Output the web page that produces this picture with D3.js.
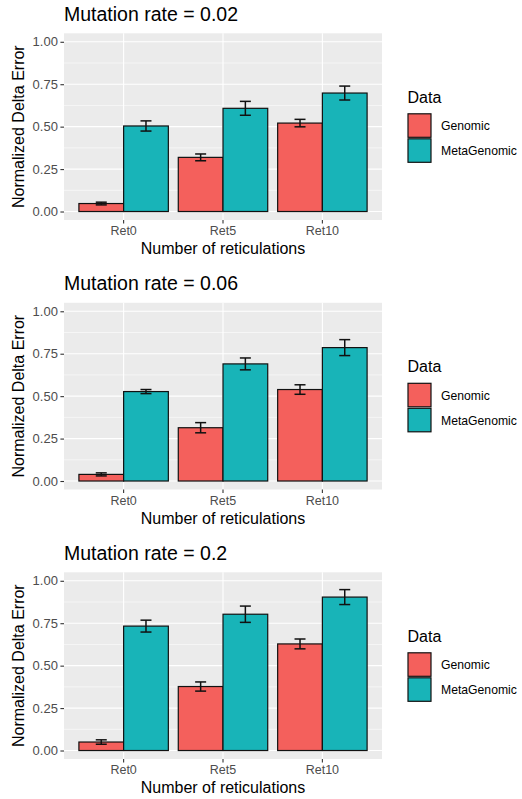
<!DOCTYPE html>
<html>
<head>
<meta charset="utf-8">
<script src="https://cdn.jsdelivr.net/npm/d3@7"></script>
<style>
  body { margin: 0; background: #fff; }
  text { font-family: "Liberation Sans", Arial, sans-serif; }
</style>
</head>
<body>
<script>
const categories = ["Ret0", "Ret5", "Ret10"];
const series = ["Genomic", "MetaGenomic"];
const rates = ["0.02", "0.06", "0.2"];
const yTicks = [0, 0.25, 0.5, 0.75, 1];
const yMinor = [0.125, 0.375, 0.625, 0.875];

// mean values and error half widths, per rate
const genomic = [
  [0.047, 0.319, 0.521],
  [0.039, 0.314, 0.539],
  [0.05, 0.377, 0.628],
];
const genomicErr = [
  [0.008, 0.02, 0.022],
  [0.009, 0.03, 0.028],
  [0.013, 0.027, 0.029],
];
const metaGenomic = [
  [0.504, 0.608, 0.698],
  [0.527, 0.69, 0.786],
  [0.733, 0.803, 0.904],
];
const metaGenomicErr = [
  [0.03, 0.041, 0.041],
  [0.012, 0.035, 0.047],
  [0.035, 0.048, 0.044],
];
const colors = ["#F4605C", "#18B4B8"];

const WIDTH = 522;
const HEIGHT = 799;
const PANEL_LEFT = 64;
const PANEL_RIGHT = 382;
const PANEL_H = 186.7;
const PANEL_STEP = 269.5;
const PANEL_TOP0 = 33.3;

const svg = d3
  .select("body")
  .append("svg")
  .attr("width", WIDTH)
  .attr("height", HEIGHT);

const x = d3
  .scaleBand()
  .domain(categories)
  .range([PANEL_LEFT, PANEL_RIGHT])
  .paddingInner(0.1)
  .paddingOuter(0.15);
const xs = d3.scaleBand().domain(series).range([0, x.bandwidth()]);

rates.forEach((rate, r) => {
  const top = PANEL_TOP0 + r * PANEL_STEP;
  const bottom = top + PANEL_H;
  const y = d3.scaleLinear().domain([-0.05, 1.05]).range([bottom, top]);
  const g = svg.append("g");

  const rows = [];
  categories.forEach((c, i) => {
    rows.push({ cat: c, s: series[0], v: genomic[r][i], e: genomicErr[r][i] });
    rows.push({ cat: c, s: series[1], v: metaGenomic[r][i], e: metaGenomicErr[r][i] });
  });

  g.append("text")
    .attr("x", PANEL_LEFT)
    .attr("y", top - 12.6)
    .attr("font-size", 19.5)
    .attr("fill", "#000")
    .text(`Mutation rate = ${rate}`);

  g.append("rect")
    .attr("x", PANEL_LEFT)
    .attr("y", top)
    .attr("width", PANEL_RIGHT - PANEL_LEFT)
    .attr("height", PANEL_H)
    .attr("fill", "#EBEBEB");

  g.selectAll(".minor")
    .data(yMinor)
    .enter()
    .append("line")
    .attr("x1", PANEL_LEFT)
    .attr("x2", PANEL_RIGHT)
    .attr("y1", (d) => y(d))
    .attr("y2", (d) => y(d))
    .attr("stroke", "#fff")
    .attr("stroke-width", 0.55);

  g.selectAll(".major")
    .data(yTicks)
    .enter()
    .append("line")
    .attr("x1", PANEL_LEFT)
    .attr("x2", PANEL_RIGHT)
    .attr("y1", (d) => y(d))
    .attr("y2", (d) => y(d))
    .attr("stroke", "#fff")
    .attr("stroke-width", 1.1);

  g.selectAll(".vmajor")
    .data(categories)
    .enter()
    .append("line")
    .attr("x1", (d) => x(d) + x.bandwidth() / 2)
    .attr("x2", (d) => x(d) + x.bandwidth() / 2)
    .attr("y1", top)
    .attr("y2", bottom)
    .attr("stroke", "#fff")
    .attr("stroke-width", 1.1);

  g.selectAll(".bar")
    .data(rows)
    .enter()
    .append("rect")
    .attr("x", (d) => x(d.cat) + xs(d.s))
    .attr("y", (d) => y(d.v))
    .attr("width", xs.bandwidth())
    .attr("height", (d) => y(0) - y(d.v))
    .attr("fill", (d) => colors[series.indexOf(d.s)])
    .attr("stroke", "#111")
    .attr("stroke-width", 1.2);

  const cap = 5.5;
  const err = g
    .selectAll(".err")
    .data(rows)
    .enter()
    .append("g")
    .attr("stroke", "#111")
    .attr("stroke-width", 1.5)
    .attr("fill", "none");
  const cx = (d) => x(d.cat) + xs(d.s) + xs.bandwidth() / 2;
  err.append("line")
    .attr("x1", cx).attr("x2", cx)
    .attr("y1", (d) => y(d.v - d.e)).attr("y2", (d) => y(d.v + d.e));
  err.append("line")
    .attr("x1", (d) => cx(d) - cap).attr("x2", (d) => cx(d) + cap)
    .attr("y1", (d) => y(d.v - d.e)).attr("y2", (d) => y(d.v - d.e));
  err.append("line")
    .attr("x1", (d) => cx(d) - cap).attr("x2", (d) => cx(d) + cap)
    .attr("y1", (d) => y(d.v + d.e)).attr("y2", (d) => y(d.v + d.e));

  // y axis
  const yAxis = g
    .append("g")
    .attr("transform", `translate(${PANEL_LEFT},0)`)
    .call(d3.axisLeft(y).tickValues(yTicks).tickFormat(d3.format(".2f")).tickSize(3.6).tickPadding(2.5));
  yAxis.select(".domain").remove();
  yAxis.selectAll("line").attr("stroke", "#333").attr("stroke-width", 1.1);
  yAxis.selectAll("text").attr("fill", "#4D4D4D").attr("font-size", 13).attr("font-family", "Liberation Sans, Arial, sans-serif");

  // x axis
  const xAxis = g
    .append("g")
    .attr("transform", `translate(0,${bottom})`)
    .call(d3.axisBottom(x).tickSize(3.6).tickPadding(3));
  xAxis.select(".domain").remove();
  xAxis.selectAll("line").attr("stroke", "#333").attr("stroke-width", 1.1);
  xAxis.selectAll("text").attr("fill", "#4D4D4D").attr("font-size", 12.5).attr("font-family", "Liberation Sans, Arial, sans-serif");

  g.append("text")
    .attr("x", (PANEL_LEFT + PANEL_RIGHT) / 2)
    .attr("y", bottom + 34)
    .attr("text-anchor", "middle")
    .attr("font-size", 16)
    .text("Number of reticulations");

  g.append("text")
    .attr("transform", `translate(23.5,${(top + bottom) / 2}) rotate(-90)`)
    .attr("text-anchor", "middle")
    .attr("font-size", 16)
    .text("Normalized Delta Error");

  // legend
  const lg = g.append("g").attr("transform", `translate(407.5,${top + 80})`);
  lg.append("text").attr("x", 0).attr("y", -10.6).attr("font-size", 16).text("Data");
  const item = lg
    .selectAll(".key")
    .data(series)
    .enter()
    .append("g")
    .attr("transform", (d, i) => `translate(0,${i * 25})`);
  item.append("rect")
    .attr("x", 0.5).attr("y", 0.5)
    .attr("width", 23).attr("height", 23.5)
    .attr("fill", (d, i) => colors[i])
    .attr("stroke", "#111")
    .attr("stroke-width", 1.2);
  item.append("text")
    .attr("x", 33.5)
    .attr("y", 12.5)
    .attr("dy", "0.35em")
    .attr("font-size", 12.2)
    .text((d) => d);
});
</script>
</body>
</html>
